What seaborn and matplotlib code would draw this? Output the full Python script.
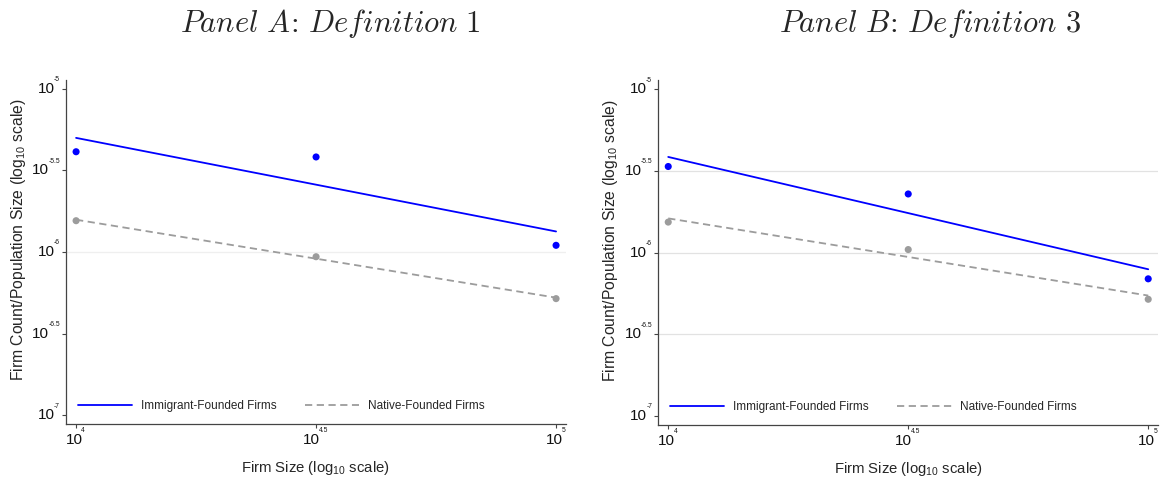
import numpy as np
import pandas as pd
import matplotlib
matplotlib.use("Agg")
import matplotlib.pyplot as plt
from matplotlib.lines import Line2D
import seaborn as sns

# firm size and firm count / population, both as log10 values
firm_size_log = [4.0, 4.5, 5.0]

a_immigrant = [-5.385, -5.417, -5.959]
a_native = [-5.808, -6.029, -6.286]
b_immigrant = [-5.474, -5.642, -6.161]
b_native = [-5.814, -5.982, -6.286]

panel_titles = ["Panel A: Definition 1", "Panel B: Definition 3"]
series_names = ["Immigrant-Founded Firms", "Native-Founded Firms"]
y_ticks = [-7.0, -6.5, -6.0, -5.5, -5.0]
x_ticks = [4.0, 4.5, 5.0]

sns.set_style("white")
plt.rcParams["font.family"] = ["Liberation Sans", "DejaVu Sans"]
plt.rcParams["mathtext.fontset"] = "custom"
plt.rcParams["mathtext.rm"] = "Liberation Sans"
plt.rcParams["mathtext.it"] = "Liberation Sans:italic"

blue = "#0000ff"
grey = "#9c9c9c"
PX = 72 / 100  # points per pixel

# arial-like advance widths (em) for the little exponent strings
char_w = {"-": 0.333, ".": 0.278}
def text_w(s, size):
    return sum(char_w.get(c, 0.556) for c in s) * size

BASE = 11
SUP = 4.8

fig = plt.figure(figsize=(11.62, 4.8), dpi=100)
ax_a = fig.add_axes([0.0568, 0.1167, 0.430, 0.7166])
ax_b = fig.add_axes([0.5664, 0.1146, 0.430, 0.7187])

panels = [
    (ax_a, a_immigrant, a_native, [-6.0], "#efefef"),
    (ax_b, b_immigrant, b_native, [-6.5, -6.0, -5.5], "#e2e2e2"),
]

for ax, imm, nat, grid_at, grid_col in panels:
    df = pd.DataFrame({"size": firm_size_log * 2,
                       "ratio": imm + nat,
                       "group": [series_names[0]] * 3 + [series_names[1]] * 3})
    for g in grid_at:
        ax.axhline(g, color=grid_col, lw=0.9, zorder=0)
    d1 = df[df["group"] == series_names[0]]
    d2 = df[df["group"] == series_names[1]]
    sns.regplot(data=d1, x="size", y="ratio", ax=ax, ci=None,
                scatter_kws=dict(color=blue, s=26, edgecolor="none", alpha=1),
                line_kws=dict(color=blue, lw=1.3))
    sns.regplot(data=d2, x="size", y="ratio", ax=ax, ci=None,
                scatter_kws=dict(color=grey, s=26, edgecolor="none", alpha=1),
                line_kws=dict(color=grey, lw=1.3, ls=(0, (4, 2.5))))
    ax.set_xlim(3.979, 5.02)
    ax.set_ylim(-7.055, -4.945)
    ax.set_yticks(y_ticks)
    ax.set_xticks(x_ticks)
    ax.tick_params(axis="both", direction="out", length=3, width=0.8,
                   color="#444444", left=True, bottom=True,
                   labelleft=False, labelbottom=False)

    # tick labels as "10" with a small exponent
    for v in y_ticks:
        sup = "%g" % v
        ws = text_w(sup, SUP)
        ax.annotate(sup, xy=(0, v), xycoords=("axes fraction", "data"),
                    xytext=(-6 * PX, 9 * PX), textcoords="offset points",
                    ha="right", va="center", fontsize=SUP, color="#111111")
        ax.annotate("10", xy=(0, v), xycoords=("axes fraction", "data"),
                    xytext=(-6 * PX - ws + 0.6, 0), textcoords="offset points",
                    ha="right", va="center", fontsize=BASE, color="#111111")
    for v in x_ticks:
        sup = "%g" % v
        ws = text_w(sup, SUP)
        w10 = text_w("10", BASE)
        x0 = -(w10 + ws) / 2
        ax.annotate("10", xy=(v, 0), xycoords=("data", "axes fraction"),
                    xytext=(x0, -16 * PX), textcoords="offset points",
                    ha="left", va="center", fontsize=BASE, color="#111111")
        ax.annotate(sup, xy=(v, 0), xycoords=("data", "axes fraction"),
                    xytext=(x0 + w10 - 1.0, -7 * PX), textcoords="offset points",
                    ha="left", va="center", fontsize=SUP, color="#111111")

    ax.set_xlabel(r"Firm Size (log$_{10}$ scale)", fontsize=10.7, va="center")
    ax.xaxis.set_label_coords(0.5, -44 / 344)
    ax.set_ylabel(r"Firm Count/Population Size (log$_{10}$ scale)", fontsize=11.3,
                  va="center")
    ax.yaxis.set_label_coords(-48 / 500, 0.535)
    sns.despine(ax=ax)
    for sp in ["left", "bottom"]:
        ax.spines[sp].set_color("#444444")
        ax.spines[sp].set_linewidth(0.9)
    handles = [Line2D([], [], color=blue, lw=1.3),
               Line2D([], [], color=grey, lw=1.3, ls=(0, (4, 2.5)))]
    ax.legend(handles, series_names, loc="center left", ncol=2, frameon=False,
              fontsize=8.5, handlelength=4.6, columnspacing=2.4, handletextpad=0.75,
              borderpad=0, borderaxespad=0, bbox_to_anchor=(0.024, 0.052))

title_x = [0.284, 0.8]
for tx, t in zip(title_x, panel_titles):
    s = t.replace(":", r"\!:\!").replace(" ", r"\ ")
    fig.text(tx, 0.952, r"$\mathit{%s}$" % s,
             fontsize=22, ha="center", va="center", math_fontfamily="cm")

fig.savefig("out.png", dpi=100)
